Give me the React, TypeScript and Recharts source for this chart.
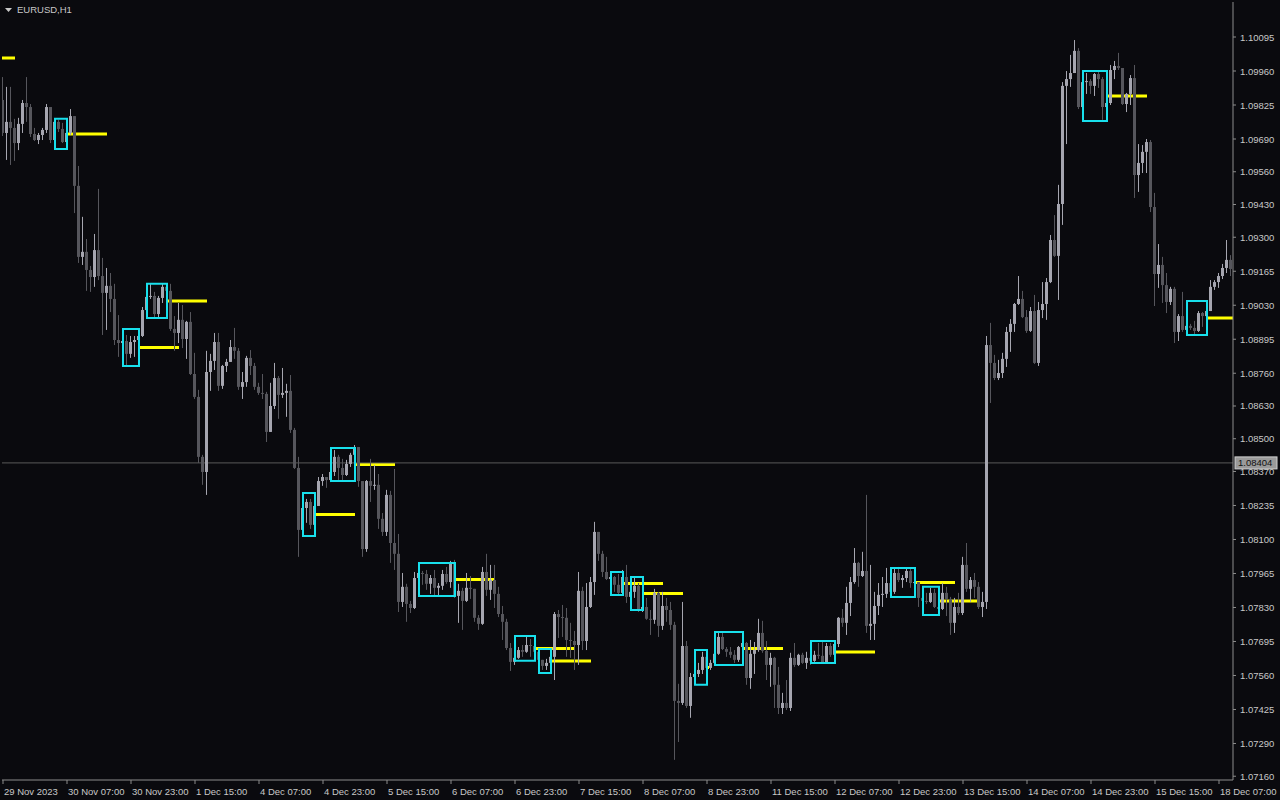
import { Bar, ComposedChart, ReferenceArea, ReferenceLine, XAxis, YAxis } from "recharts";

// EURUSD H1, bar 0 = 29 Nov 2023 15:00; open of each bar = previous close
const firstOpen = 1.09845;

const closes = [
  1.09714, 1.09758, 1.09734, 1.09674, 1.0975, 1.09833, 1.09817, 1.0971, 1.09686, 1.09706,
  1.09726, 1.09817, 1.09686, 1.09758, 1.0973, 1.09678, 1.09714, 1.09781, 1.09504, 1.09222,
  1.09242, 1.0917, 1.09142, 1.09249, 1.09146, 1.09079, 1.09107, 1.09055, 1.08892, 1.0888,
  1.08888, 1.08837, 1.08884, 1.08892, 1.08908, 1.09011, 1.09063, 1.09067, 1.08995, 1.09059,
  1.09103, 1.09087, 1.08936, 1.0892, 1.08972, 1.08896, 1.08964, 1.08757, 1.08666, 1.08428,
  1.08368, 1.08765, 1.08809, 1.08884, 1.0871, 1.08789, 1.08805, 1.08864, 1.08849, 1.08706,
  1.08725, 1.08821, 1.08789, 1.08706, 1.08682, 1.08678, 1.08527, 1.0863, 1.08741, 1.08674,
  1.08682, 1.0869, 1.08535, 1.08384, 1.08138, 1.08225, 1.08249, 1.08158, 1.08233, 1.08332,
  1.08348, 1.08336, 1.08368, 1.08428, 1.08384, 1.08356, 1.084, 1.08436, 1.08467, 1.08332,
  1.08062, 1.08332, 1.08313, 1.08317, 1.08182, 1.0813, 1.08277, 1.08086, 1.08043, 1.07852,
  1.07912, 1.07844, 1.07828, 1.07947, 1.07967, 1.07963, 1.07924, 1.07947, 1.07908, 1.07916,
  1.07963, 1.07931, 1.08007, 1.07876, 1.07896, 1.07856, 1.07908, 1.07904, 1.07789, 1.07765,
  1.07971, 1.079, 1.07939, 1.07884, 1.07804, 1.07773, 1.07669, 1.07614, 1.0763, 1.07661,
  1.07654, 1.07681, 1.07677, 1.07654, 1.07622, 1.07598, 1.0761, 1.07634, 1.07804, 1.07792,
  1.07789, 1.07701, 1.07697, 1.07681, 1.07896, 1.07697, 1.07832, 1.07931, 1.0813, 1.08043,
  1.07971, 1.07943, 1.07951, 1.0792, 1.07888, 1.07951, 1.07872, 1.07892, 1.07916, 1.07816,
  1.07832, 1.07785, 1.07781, 1.07888, 1.07757, 1.07836, 1.0782, 1.07761, 1.07459, 1.07451,
  1.07677, 1.07439, 1.07554, 1.07566, 1.07582, 1.07634, 1.0759, 1.0761, 1.07646, 1.07713,
  1.07665, 1.07654, 1.07642, 1.07622, 1.07673, 1.07689, 1.0755, 1.07646, 1.07661, 1.07729,
  1.07658, 1.07602, 1.0763, 1.07523, 1.07431, 1.07451, 1.07431, 1.0763, 1.07602, 1.07642,
  1.0761, 1.0763, 1.07618, 1.07642, 1.07638, 1.0761, 1.07677, 1.07642, 1.07685, 1.07789,
  1.07769, 1.07848, 1.07931, 1.08007, 1.07955, 1.07975, 1.07757, 1.07765, 1.07836, 1.0788,
  1.07884, 1.07927, 1.07892, 1.07967, 1.07939, 1.07947, 1.07975, 1.07927, 1.07931, 1.07868,
  1.07856, 1.07852, 1.07888, 1.07832, 1.07824, 1.07888, 1.07864, 1.07769, 1.07832, 1.07808,
  1.07999, 1.07904, 1.07939, 1.07912, 1.07832, 1.07852, 1.08872, 1.08801, 1.08741, 1.08761,
  1.08817, 1.08924, 1.08956, 1.09035, 1.09055, 1.08983, 1.08928, 1.09007, 1.08801, 1.09011,
  1.09035, 1.09122, 1.09289, 1.09226, 1.09432, 1.09901, 1.09928, 1.09952, 1.1004, 1.09817,
  1.09916, 1.0992, 1.09901, 1.09948, 1.09928, 1.09817, 1.09833, 1.09964, 1.0998, 1.09972,
  1.09829, 1.09869, 1.09932, 1.09547, 1.09595, 1.09639, 1.09678, 1.0942, 1.09154, 1.0919,
  1.0911, 1.09043, 1.09095, 1.08924, 1.08987, 1.08932, 1.08948, 1.0894, 1.08928, 1.08999,
  1.08987, 1.09007, 1.09103, 1.09122, 1.09146, 1.09178, 1.0921, 1.09174,
];

const highs = [
  1.09936, 1.09897, 1.09897, 1.0977, 1.09774, 1.09845, 1.09936, 1.09829, 1.09734, 1.09714,
  1.09734, 1.09829, 1.09817, 1.09766, 1.09766, 1.09754, 1.09726, 1.09809, 1.09781, 1.09583,
  1.09381, 1.09293, 1.09186, 1.09313, 1.09492, 1.09218, 1.09178, 1.09158, 1.09115, 1.08991,
  1.08912, 1.08912, 1.08908, 1.08908, 1.08912, 1.09023, 1.09083, 1.09115, 1.09083, 1.09067,
  1.09115, 1.09115, 1.09115, 1.08987, 1.09039, 1.09031, 1.08968, 1.09003, 1.08841, 1.08694,
  1.08436, 1.08849, 1.08837, 1.0892, 1.0892, 1.08793, 1.08817, 1.08892, 1.0894, 1.0886,
  1.08765, 1.08829, 1.08852, 1.08801, 1.08722, 1.08757, 1.08686, 1.08722, 1.08801, 1.08749,
  1.08781, 1.08718, 1.08753, 1.08543, 1.08428, 1.08237, 1.08261, 1.08261, 1.08245, 1.08348,
  1.0836, 1.08348, 1.08376, 1.08455, 1.08436, 1.0842, 1.08416, 1.08444, 1.08475, 1.08467,
  1.08332, 1.08336, 1.0842, 1.08396, 1.0836, 1.08205, 1.08297, 1.08293, 1.0838, 1.08122,
  1.07967, 1.07924, 1.07856, 1.07971, 1.07979, 1.07975, 1.07979, 1.07959, 1.07979, 1.07927,
  1.07979, 1.07991, 1.08015, 1.08019, 1.07924, 1.07908, 1.07967, 1.07955, 1.07904, 1.078,
  1.07991, 1.08043, 1.07999, 1.07999, 1.07912, 1.07836, 1.07785, 1.07689, 1.07661, 1.07673,
  1.07681, 1.07717, 1.07705, 1.07689, 1.07661, 1.07622, 1.07626, 1.07642, 1.07812, 1.0782,
  1.0784, 1.07828, 1.07769, 1.07737, 1.07971, 1.07912, 1.07927, 1.07951, 1.0817, 1.0813,
  1.08055, 1.08031, 1.07963, 1.07955, 1.07963, 1.07979, 1.07999, 1.07908, 1.07947, 1.07927,
  1.07848, 1.07868, 1.0782, 1.07904, 1.07892, 1.07892, 1.07868, 1.07852, 1.07773, 1.07527,
  1.07852, 1.07697, 1.0757, 1.07582, 1.0761, 1.07654, 1.07642, 1.07622, 1.07654, 1.07729,
  1.07729, 1.07673, 1.07673, 1.07661, 1.07677, 1.07701, 1.07693, 1.07701, 1.07693, 1.07785,
  1.07777, 1.07697, 1.0765, 1.07634, 1.07594, 1.07491, 1.07542, 1.0765, 1.07689, 1.07646,
  1.0765, 1.07654, 1.07642, 1.07658, 1.07689, 1.07693, 1.07689, 1.07689, 1.07697, 1.07792,
  1.07824, 1.07912, 1.07951, 1.08066, 1.08011, 1.08051, 1.08277, 1.07999, 1.07892, 1.07927,
  1.07951, 1.07987, 1.07939, 1.07983, 1.07991, 1.07959, 1.07987, 1.07987, 1.07943, 1.07931,
  1.0788, 1.07888, 1.07908, 1.07904, 1.07848, 1.07927, 1.07912, 1.07872, 1.07868, 1.07888,
  1.08031, 1.08086, 1.07951, 1.07967, 1.07931, 1.07892, 1.08908, 1.0896, 1.08833, 1.08813,
  1.08841, 1.08944, 1.08975, 1.09039, 1.09146, 1.09087, 1.09011, 1.09023, 1.09071, 1.09043,
  1.09122, 1.09138, 1.09309, 1.09388, 1.09508, 1.09916, 1.0996, 1.10024, 1.10083, 1.10051,
  1.0994, 1.09952, 1.09928, 1.09952, 1.09956, 1.09936, 1.09853, 1.09984, 1.1, 1.10032,
  1.09972, 1.09873, 1.09944, 1.09984, 1.0967, 1.09666, 1.0969, 1.09686, 1.09476, 1.09273,
  1.09222, 1.09158, 1.09103, 1.09103, 1.08995, 1.09083, 1.08952, 1.08956, 1.08968, 1.09007,
  1.09003, 1.09015, 1.0913, 1.0913, 1.09158, 1.09194, 1.09289, 1.09229,
];

const lows = [
  1.09702, 1.09607, 1.09587, 1.09603, 1.09646, 1.09714, 1.09758, 1.09698, 1.09682, 1.0967,
  1.09686, 1.09714, 1.09674, 1.09678, 1.09718, 1.09674, 1.09666, 1.09706, 1.09396, 1.09198,
  1.0919, 1.09087, 1.09083, 1.09103, 1.0913, 1.08912, 1.08932, 1.09003, 1.08872, 1.08825,
  1.08852, 1.08785, 1.08821, 1.08825, 1.08888, 1.08904, 1.08999, 1.09055, 1.08983, 1.08983,
  1.09039, 1.09075, 1.08928, 1.08849, 1.0888, 1.0886, 1.08817, 1.08753, 1.08658, 1.08404,
  1.08317, 1.08277, 1.0869, 1.08773, 1.0869, 1.08698, 1.08765, 1.08805, 1.08817, 1.08694,
  1.08658, 1.08706, 1.08753, 1.08694, 1.08674, 1.08658, 1.08487, 1.08527, 1.08618, 1.08579,
  1.08662, 1.08587, 1.08523, 1.0838, 1.08031, 1.08126, 1.08166, 1.08142, 1.0815, 1.08233,
  1.08313, 1.08305, 1.08328, 1.08352, 1.08336, 1.08332, 1.08352, 1.08388, 1.08424, 1.08309,
  1.08031, 1.08051, 1.08249, 1.08297, 1.08142, 1.08114, 1.08114, 1.08007, 1.07979, 1.07812,
  1.07832, 1.07773, 1.07808, 1.07824, 1.07931, 1.0792, 1.079, 1.07884, 1.07876, 1.07876,
  1.079, 1.07924, 1.07908, 1.07868, 1.07769, 1.07741, 1.07852, 1.07864, 1.07773, 1.07741,
  1.07761, 1.07876, 1.0786, 1.07828, 1.07792, 1.07701, 1.07661, 1.07578, 1.07602, 1.07626,
  1.07634, 1.0765, 1.07634, 1.07638, 1.07602, 1.07582, 1.07582, 1.07606, 1.07542, 1.07709,
  1.07713, 1.07634, 1.0763, 1.07582, 1.07602, 1.07661, 1.07661, 1.07828, 1.0788, 1.08015,
  1.07951, 1.07939, 1.07931, 1.07892, 1.0788, 1.0788, 1.07848, 1.0786, 1.07868, 1.07812,
  1.07812, 1.07781, 1.07721, 1.07765, 1.07713, 1.07741, 1.07773, 1.07741, 1.07225, 1.07296,
  1.07443, 1.07431, 1.07392, 1.07542, 1.07554, 1.07566, 1.07582, 1.07582, 1.07606, 1.07642,
  1.07661, 1.07634, 1.0763, 1.0761, 1.07614, 1.07661, 1.07523, 1.07507, 1.07566, 1.07654,
  1.0765, 1.07542, 1.07515, 1.07431, 1.07407, 1.07407, 1.07423, 1.07419, 1.07594, 1.07598,
  1.07606, 1.07586, 1.07602, 1.07614, 1.07626, 1.07606, 1.07606, 1.07634, 1.07634, 1.07673,
  1.07753, 1.07721, 1.07796, 1.07924, 1.07912, 1.07951, 1.07729, 1.07701, 1.07701, 1.078,
  1.07832, 1.07868, 1.0788, 1.07884, 1.07931, 1.07908, 1.07931, 1.07908, 1.07916, 1.07832,
  1.07844, 1.07844, 1.07848, 1.07828, 1.07812, 1.0782, 1.07796, 1.07721, 1.07729, 1.078,
  1.078, 1.07892, 1.07852, 1.07868, 1.07824, 1.07792, 1.07824, 1.08642, 1.08733, 1.08733,
  1.08741, 1.08785, 1.08845, 1.08924, 1.09031, 1.08979, 1.0892, 1.08924, 1.08797, 1.08789,
  1.08979, 1.08972, 1.09118, 1.09222, 1.09051, 1.09349, 1.0967, 1.09897, 1.09952, 1.09809,
  1.09813, 1.09869, 1.09869, 1.09861, 1.09893, 1.09766, 1.09805, 1.09825, 1.09928, 1.09964,
  1.09825, 1.09797, 1.09825, 1.09456, 1.0948, 1.09555, 1.09555, 1.094, 1.09027, 1.09099,
  1.09039, 1.08999, 1.09031, 1.0888, 1.08888, 1.08924, 1.0892, 1.08932, 1.08916, 1.08924,
  1.08944, 1.08979, 1.09019, 1.09091, 1.09099, 1.09134, 1.09158, 1.09146,
];

// one label every 16 bars
const timeLabels = [
  "29 Nov 2023", "30 Nov 07:00", "30 Nov 23:00", "1 Dec 15:00", "4 Dec 07:00",
  "4 Dec 23:00", "5 Dec 15:00", "6 Dec 07:00", "6 Dec 23:00", "7 Dec 15:00",
  "8 Dec 07:00", "8 Dec 23:00", "11 Dec 15:00", "12 Dec 07:00", "12 Dec 23:00",
  "13 Dec 15:00", "14 Dec 07:00", "14 Dec 23:00", "15 Dec 15:00", "18 Dec 07:00",
];
const barsPerLabel = 16;

const priceTicks = [
  1.10095, 1.0996, 1.09825, 1.0969, 1.0956, 1.0943, 1.093, 1.09165, 1.0903, 1.08895,
  1.0876, 1.0863, 1.085, 1.0837, 1.08235, 1.081, 1.07965, 1.0783, 1.07695, 1.0756,
  1.07425, 1.0729, 1.0716,
];
const lastPrice = 1.08404;

// consolidation boxes (bar range + price range)
const boxFrom = [13, 30, 36, 75, 82, 104, 128, 134, 152, 157, 173, 178, 202, 222, 230, 270, 296];
const boxTo = [16, 34, 41, 78, 88, 113, 133, 137, 155, 160, 176, 185, 208, 228, 234, 276, 301];
const boxTop = [
  1.0977, 1.08936, 1.09115, 1.08285, 1.08463, 1.08007, 1.07717, 1.07665, 1.07971,
  1.07951, 1.07661, 1.07733, 1.07697, 1.07987, 1.07912, 1.0996, 1.09047,
];
const boxBottom = [
  1.0965, 1.08789, 1.08979, 1.08114, 1.08332, 1.07876, 1.07618, 1.0757, 1.0788,
  1.0782, 1.07523, 1.07602, 1.0761, 1.07872, 1.078, 1.09762, 1.08912,
];
// how many bars each mid-level line runs to the right of its box
const levelBars = [10, 10, 10, 10, 10, 10, 10, 10, 10, 10, 0.5, 10, 10, 10, 10, 10, 10];
// level left over from a box before the visible window
const priorLevelEnd = -7;
const priorLevel = 1.10012;

const BG = "#0a0a0e";
const TEXT = "#c8c8c8";
const FRAME = "#8c8c8c";
const BULL = "#a6a6b0";
const BEAR = "#56565c";
const CYAN = "#18e0ec";
const YELLOW = "#ffff00";
const FONT = "'Liberation Sans', Arial, sans-serif";

const candles = closes.map((close, i) => {
  const open = i === 0 ? firstOpen : closes[i - 1];
  return {
    i,
    open,
    close,
    high: Math.max(highs[i], open, close),
    low: Math.min(lows[i], open, close),
  };
});

const boxes = boxFrom.map((from, k) => ({
  from,
  to: boxTo[k],
  top: boxTop[k],
  bottom: boxBottom[k],
  level: (boxTop[k] + boxBottom[k]) / 2,
  run: levelBars[k],
}));

function Candle(props: any) {
  const { x, y, width, height, payload } = props;
  if (!payload || height == null) return null;
  const { open, close, high, low } = payload;
  const top = Math.min(y, y + height);
  const h = Math.abs(height);
  const k = high > low ? h / (high - low) : 0;
  const color = close >= open ? BULL : BEAR;
  const cx = Math.floor(x + width / 2);
  const bTop = top + (high - Math.max(open, close)) * k;
  const bBot = top + (high - Math.min(open, close)) * k;
  return (
    <g>
      <rect x={cx} y={top} width={1} height={Math.max(h, 1)} fill={color} />
      <rect x={cx - 1} y={bTop} width={3} height={Math.max(bBot - bTop, 1)} fill={color} />
    </g>
  );
}

function TimeTick(props: any) {
  const { x, payload } = props;
  const label = timeLabels[Math.round(payload.value / barsPerLabel)];
  return (
    <text x={x + 1} y={795} fill={TEXT} fontSize={9.5} fontFamily={FONT}>
      {label}
    </text>
  );
}

function PriceTick(props: any) {
  const { x, y, payload } = props;
  return (
    <text x={x} y={y + 3.5} fill={TEXT} fontSize={9.5} fontFamily={FONT}>
      {Number(payload.value).toFixed(5)}
    </text>
  );
}

function LastPriceLabel(props: any) {
  const { viewBox } = props;
  if (!viewBox) return null;
  const x = viewBox.x + viewBox.width + 2;
  const y = viewBox.y;
  return (
    <g>
      <rect x={x} y={y - 6} width={42} height={12} fill="#9a9a9a" stroke="#d0d0d0" strokeWidth={1} />
      <text x={x + 3} y={y + 3.5} fill="#101010" fontSize={9.5} fontFamily={FONT}>
        {lastPrice.toFixed(5)}
      </text>
    </g>
  );
}

export default function App() {
  const lastBar = candles.length - 1;
  return (
    <div style={{ position: "absolute", left: 0, top: 0, width: 1280, height: 800, background: BG, overflow: "hidden" }}>
      <ComposedChart
        width={1280}
        height={800}
        data={candles}
        margin={{ top: 2, right: 0, left: 2, bottom: 0 }}
      >
        <XAxis
          dataKey="i"
          type="number"
          domain={[-0.25, lastBar + 0.5]}
          allowDataOverflow
          ticks={timeLabels.map((_, k) => k * barsPerLabel)}
          interval={0}
          tick={<TimeTick />}
          tickLine={{ stroke: FRAME }}
          tickSize={4}
          axisLine={{ stroke: FRAME }}
          height={20}
        />
        <XAxis xAxisId="frame" orientation="top" height={0} tick={false} tickLine={false} axisLine={{ stroke: FRAME }} />
        <YAxis
          orientation="right"
          type="number"
          domain={[1.07145, 1.10234]}
          allowDataOverflow
          ticks={priceTicks}
          interval={0}
          width={47}
          tick={<PriceTick />}
          tickLine={{ stroke: FRAME }}
          tickSize={3}
          tickMargin={4}
          axisLine={{ stroke: FRAME }}
        />
        <YAxis yAxisId="frame" orientation="left" width={0} tick={false} tickLine={false} axisLine={{ stroke: FRAME }} />

        <ReferenceLine
          segment={[{ x: priorLevelEnd, y: priorLevel }, { x: priorLevelEnd + 10, y: priorLevel }]}
          stroke={YELLOW}
          strokeWidth={3}
          ifOverflow="hidden"
          zIndex={250}
        />
        {boxes.map((b, k) => (
          <ReferenceLine
            key={`lvl${k}`}
            segment={[{ x: b.to, y: b.level }, { x: b.to + b.run, y: b.level }]}
            stroke={YELLOW}
            strokeWidth={3}
            ifOverflow="hidden"
            zIndex={250}
          />
        ))}
        <ReferenceLine
          y={lastPrice}
          stroke="#5a5a5a"
          strokeWidth={1}
          label={<LastPriceLabel />}
          zIndex={260}
        />

        <Bar
          dataKey={(d: any) => [d.low, d.high]}
          barSize={3}
          shape={<Candle />}
          isAnimationActive={false}
          zIndex={300}
        />

        {boxes.map((b, k) => (
          <ReferenceArea
            key={`box${k}`}
            x1={b.from}
            x2={b.to}
            y1={b.bottom}
            y2={b.top}
            fill="none"
            fillOpacity={0}
            stroke={CYAN}
            strokeWidth={2}
            strokeOpacity={1}
            ifOverflow="hidden"
            zIndex={350}
          />
        ))}
      </ComposedChart>
      <div
        style={{
          position: "absolute",
          left: 5,
          top: 4,
          color: TEXT,
          fontFamily: FONT,
          fontSize: 9.5,
          lineHeight: "12px",
          display: "flex",
          alignItems: "center",
          gap: 5,
        }}
      >
        <svg width={7} height={5}>
          <polygon points="0,0 7,0 3.5,4" fill={TEXT} />
        </svg>
        <span>EURUSD,H1</span>
      </div>
    </div>
  );
}
